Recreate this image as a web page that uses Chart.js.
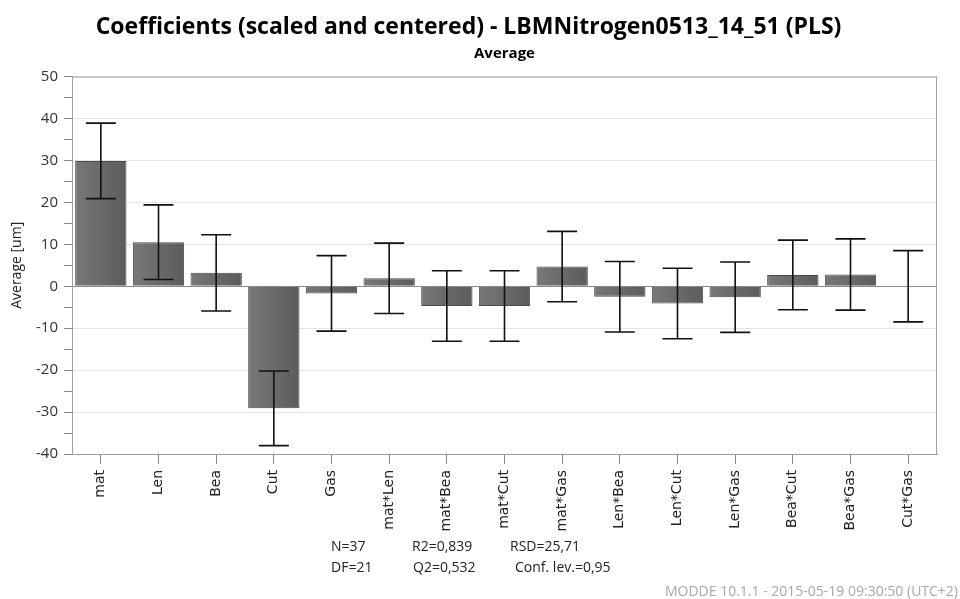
<!DOCTYPE html>
<html>
<head>
<meta charset="utf-8">
<script src="https://cdn.jsdelivr.net/npm/chart.js@4/dist/chart.umd.min.js"></script>
<style>
  html, body { margin: 0; padding: 0; background: #fff; }
  #wrap { width: 960px; height: 599px; }
</style>
</head>
<body>
<div id="wrap"><canvas id="coefChart" width="960" height="599"></canvas></div>
<script>
const terms = ['mat', 'Len', 'Bea', 'Cut', 'Gas', 'mat*Len', 'mat*Bea', 'mat*Cut', 'mat*Gas',
  'Len*Bea', 'Len*Cut', 'Len*Gas', 'Bea*Cut', 'Bea*Gas', 'Cut*Gas'];
const coefs = [29.9, 10.5, 3.2, -29.1, -1.7, 1.9, -4.7, -4.7, 4.7, -2.5, -4.1, -2.6, 2.7, 2.8, 0.0];
const confInt = [9.0, 8.9, 9.1, 8.9, 9.0, 8.4, 8.4, 8.4, 8.4, 8.4, 8.4, 8.4, 8.3, 8.5, 8.5];
const statsRow1 = ['N=37', 'R2=0,839', 'RSD=25,71'];
const statsRow2 = ['DF=21', 'Q2=0,532', 'Conf. lev.=0,95'];
const footer = 'MODDE 10.1.1 - 2015-05-19 09:30:50 (UTC+2)';

// error bars, plot frame and the stats text under the axis
const extras = {
  id: 'extras',
  afterDatasetsDraw(chart) {
    const { ctx, scales: { x, y } } = chart;
    ctx.save();
    ctx.strokeStyle = '#111';
    ctx.lineWidth = 1.6;
    coefs.forEach((v, i) => {
      const px = x.getPixelForValue(i);
      const top = y.getPixelForValue(v + confInt[i]);
      const bot = y.getPixelForValue(v - confInt[i]);
      ctx.beginPath();
      ctx.moveTo(px, top); ctx.lineTo(px, bot);
      ctx.moveTo(px - 15, top); ctx.lineTo(px + 15, top);
      ctx.moveTo(px - 15, bot); ctx.lineTo(px + 15, bot);
      ctx.stroke();
    });
    ctx.restore();
  },
  afterDraw(chart) {
    const { ctx, chartArea: a } = chart;
    ctx.save();
    ctx.strokeStyle = '#a0a0a0';
    ctx.lineWidth = 1;
    ctx.strokeRect(a.left + 0.5, a.top + 0.5, a.right - a.left - 1, a.bottom - a.top);
    ctx.fillStyle = '#222';
    ctx.font = '14px "Open Sans"';
    ctx.textBaseline = 'middle';
    const cols = [331, 412, 510];
    statsRow1.forEach((t, i) => ctx.fillText(t, cols[i], 547));
    const cols2 = [331, 413, 515];
    statsRow2.forEach((t, i) => ctx.fillText(t, cols2[i], 568));
    ctx.fillStyle = '#a8a8a8';
    ctx.font = '14px "Open Sans"';
    ctx.textAlign = 'right';
    ctx.fillText(footer, 958, 592);
    ctx.restore();
  }
};

const coefChart = document.getElementById('coefChart');
new Chart(coefChart, {
  type: 'bar',
  data: {
    labels: terms,
    datasets: [{
      label: 'Average',
      data: coefs,
      backgroundColor: (c) => {
        const chart = c.chart;
        if (!chart.chartArea || c.type !== 'data') return '#666';
        const px = chart.scales.x.getPixelForValue(c.dataIndex);
        const g = chart.ctx.createLinearGradient(px - 26, 0, px + 26, 0);
        g.addColorStop(0, '#787878');
        g.addColorStop(1, '#5c5c5c');
        return g;
      },
      borderColor: '#4a4a4a',
      borderWidth: 1,
      barPercentage: 0.89,
      categoryPercentage: 1.0
    }]
  },
  options: {
    responsive: false,
    animation: false,
    layout: { padding: { left: 0, right: 23, top: 0, bottom: 0 } },
    plugins: {
      legend: { display: false },
      tooltip: { enabled: false },
      title: {
        display: true,
        text: 'Coefficients (scaled and centered) - LBMNitrogen0513_14_51 (PLS)',
        color: '#000',
        font: { family: '"Open Sans"', size: 23, weight: 'bold' },
        padding: { top: 14, bottom: 0 }
      },
      subtitle: {
        display: true,
        fullSize: false,
        text: 'Average',
        color: '#000',
        font: { family: '"Open Sans"', size: 15, weight: 'bold' },
        padding: { top: 3, bottom: 14 }
      }
    },
    scales: {
      x: {
        afterFit: (s) => { s.height = 145; },
        grid: { offset: false, drawOnChartArea: false, tickLength: 10, tickColor: '#888' },
        border: { color: '#a0a0a0' },
        ticks: {
          minRotation: 90, maxRotation: 90, autoSkip: false,
          padding: 6,
          color: '#222',
          font: { family: '"DejaVu Sans"', size: 14 }
        }
      },
      y: {
        min: -40, max: 50,
        afterFit: (s) => { s.width = 72; },
        title: {
          display: true,
          text: 'Average [um]',
          color: '#222',
          font: { family: '"Open Sans"', size: 14 },
          padding: { top: 9, bottom: 0 }
        },
        grid: {
          tickLength: 8,
          tickColor: '#888',
          color: (c) => c.tick.value === 0 ? '#8a8a8a' : (c.tick.value % 10 === 0 ? '#e4e4e4' : 'rgba(0,0,0,0)')
        },
        border: { color: '#a0a0a0' },
        ticks: {
          stepSize: 5,
          autoSkip: false,
          padding: 6,
          color: '#333',
          font: { family: '"Open Sans"', size: 15 },
          callback: (v) => v % 10 === 0 ? v : ''
        }
      }
    }
  },
  plugins: [extras]
});
</script>
</body>
</html>
